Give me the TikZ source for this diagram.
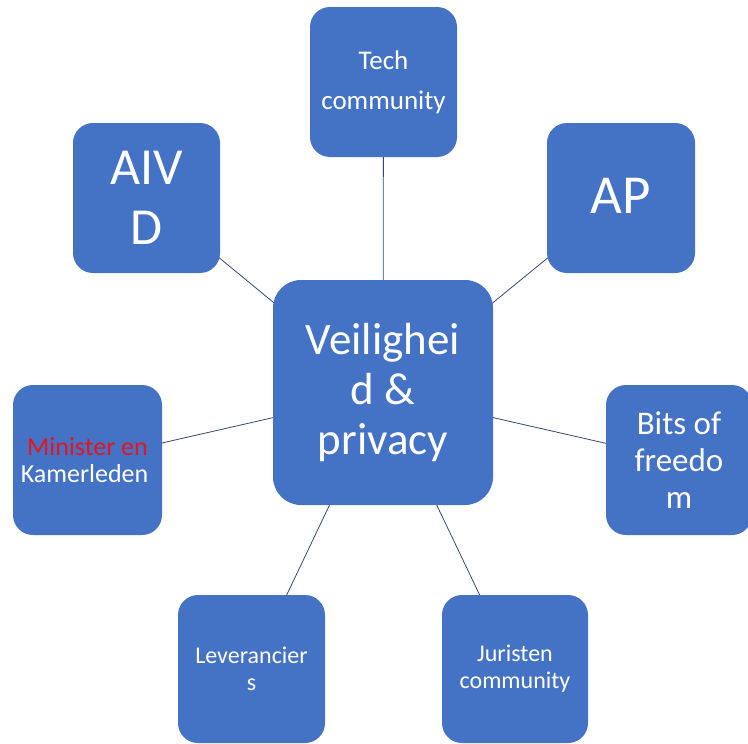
\documentclass[tikz,border=0pt]{standalone}
\usepackage{fontspec}
\setmainfont{Carlito}
\usetikzlibrary{backgrounds}
\definecolor{boxblue}{HTML}{4472C4}
\definecolor{linkcol}{RGB}{50,75,110}
\definecolor{redtxt}{RGB}{230,20,30}
\tikzset{
  box/.style={rounded corners=20pt, fill=boxblue, text=white, inner sep=0pt, align=center},
  link/.style={draw=linkcol, line width=0.8pt}
}
\begin{document}
\begin{tikzpicture}[x=1pt,y=-1pt]
\clip (0,0) rectangle (748,744);
\node[box, rounded corners=28pt, minimum width=220pt, minimum height=225pt, font=\fontsize{45}{50}\selectfont] (c) at (383,392.5) {Veilighei\\d \&\\privacy};
\node[box, minimum width=147pt, minimum height=150pt, font=\fontsize{27}{40}\selectfont] (tech) at (383.5,82) {Tech\\community};
\node[box, minimum width=147pt, minimum height=150pt, font=\fontsize{52}{60}\selectfont] (aivd) at (146.5,198) {AIV\\D};
\node[box, minimum width=148pt, minimum height=150pt, font=\fontsize{55}{66}\selectfont] (ap) at (621,198) {\raisebox{4pt}{AP}};
\node[box, minimum width=149pt, minimum height=150pt, font=\fontsize{26}{27}\selectfont] (min) at (87.5,460) {\textcolor{redtxt}{Minister en}\\Kamerleden\hspace*{6pt}};
\node[box, minimum width=146pt, minimum height=150pt, font=\fontsize{33}{37}\selectfont] (bits) at (679,460) {Bits of\\freedo\\m};
\node[box, minimum width=147pt, minimum height=148pt, font=\fontsize{24}{27}\selectfont] (lev) at (251.5,669) {Leverancier\\s};
\node[box, minimum width=146pt, minimum height=148pt, font=\fontsize{24}{27}\selectfont] (jur) at (515,669) {Juristen\\community};
\begin{scope}[on background layer]
\draw[link] (c.center) -- (tech.center);
\draw[link] (c.center) -- (aivd.center);
\draw[link] (c.center) -- (ap.center);
\draw[link] (c.center) -- (min.center);
\draw[link] (c.center) -- (bits.center);
\draw[link] (c.center) -- (lev.center);
\draw[link] (c.center) -- (jur.center);
\end{scope}
\end{tikzpicture}
\end{document}
